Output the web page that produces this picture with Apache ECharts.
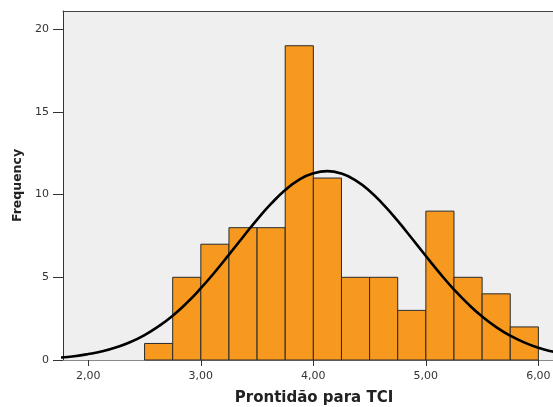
<!DOCTYPE html>
<html>
<head>
<meta charset="utf-8">
<script src="https://cdn.jsdelivr.net/npm/echarts@6/dist/echarts.min.js"></script>
<style>
html,body{margin:0;padding:0;background:#fff;}
#chart{width:553px;height:407px;}
</style>
</head>
<body>
<div id="chart"></div>
<script>
// Histogram bins (edges) and frequencies
const binEdges = [2.5, 2.75, 3.0, 3.25, 3.5, 3.75, 4.0, 4.25, 4.5, 4.75, 5.0, 5.25, 5.5, 5.75, 6.0];
const counts   = [1, 5, 7, 8, 8, 19, 11, 5, 5, 3, 9, 5, 4, 2];

// Normal curve points
const curveX = [1.75, 1.875, 2.0, 2.125, 2.25, 2.375, 2.5, 2.625, 2.75, 2.875, 3.0, 3.125, 3.25, 3.375, 3.5, 3.625, 3.75, 3.875, 4.0, 4.125,
                4.25, 4.375, 4.5, 4.625, 4.75, 4.875, 5.0, 5.125, 5.25, 5.375, 5.5, 5.625, 5.75, 5.875, 6.0, 6.125, 6.25];
const curveY = [0.15, 0.23, 0.36, 0.53, 0.77, 1.09, 1.51, 2.04, 2.68, 3.45, 4.34, 5.32, 6.37, 7.44, 8.49, 9.45, 10.28, 10.91, 11.29, 11.42,
                11.27, 10.86, 10.22, 9.38, 8.41, 7.36, 6.29, 5.24, 4.26, 3.39, 2.63, 1.99, 1.47, 1.06, 0.74, 0.51, 0.34];

// Tick labels
const xTicks = [2, 3, 4, 5, 6];
const xTickLabels = ['2,00', '3,00', '4,00', '5,00', '6,00'];
const yTicks = [0, 5, 10, 15, 20];
const yTickLabels = ['0', '5', '10', '15', '20'];

const xTitle = 'Prontidão para TCI';
const yTitle = 'Frequency';

const barData = counts.map((c, i) => [binEdges[i], binEdges[i + 1], c]);
const curveData = curveX.map((x, i) => [x, curveY[i]]);

const X_MIN = 1.775, X_MAX = 6.13, Y_MAX = 21.1;
const FONT = '"DejaVu Sans", Verdana, sans-serif';

const chart = echarts.init(document.getElementById('chart'), null, {renderer: 'canvas'});
chart.setOption({
  animation: false,
  backgroundColor: '#ffffff',
  grid: {left: 63, top: 11, right: 0, bottom: 47, containLabel: false, outerBoundsMode: 'none',
         show: true, backgroundColor: '#EFEFEF', borderWidth: 0},
  xAxis: [{
    type: 'value', min: X_MIN, max: X_MAX, position: 'bottom',
    name: xTitle, nameLocation: 'middle', nameGap: 31,
    nameTextStyle: {fontFamily: FONT, fontSize: 15, fontWeight: 'bold', color: '#222', padding: [0, 0, 0, 12]},
    axisLine: {show: true, onZero: false, lineStyle: {color: '#8a8a8a', width: 1}},
    axisTick: {show: true, length: 6, lineStyle: {color: '#333'}, customValues: xTicks},
    axisLabel: {customValues: xTicks, margin: 11, fontFamily: FONT, fontSize: 11, color: '#333',
      formatter: v => xTickLabels[xTicks.indexOf(Math.round(v * 100) / 100)] || ''},
    splitLine: {show: false}
  }, {
    type: 'value', min: X_MIN, max: X_MAX, position: 'top',
    axisLine: {show: true, onZero: false, lineStyle: {color: '#444', width: 1}},
    axisTick: {show: false}, axisLabel: {show: false}, splitLine: {show: false}
  }],
  yAxis: {
    type: 'value', min: 0, max: Y_MAX,
    name: yTitle, nameLocation: 'middle', nameGap: 39, nameRotate: 90,
    nameTextStyle: {fontFamily: FONT, fontSize: 12.5, fontWeight: 'bold', color: '#222'},
    axisLine: {show: true, lineStyle: {color: '#333', width: 1}},
    axisTick: {show: true, length: 10, lineStyle: {color: '#333'}, customValues: yTicks},
    axisLabel: {customValues: yTicks, margin: 14, fontFamily: FONT, fontSize: 11, color: '#333',
      formatter: v => yTickLabels[yTicks.indexOf(Math.round(v))] || ''},
    splitLine: {show: false}
  },
  series: [{
    type: 'custom',
    xAxisIndex: 0,
    data: barData,
    encode: {x: [0, 1], y: 2},
    z: 2,
    renderItem: function (params, api) {
      const p0 = api.coord([api.value(0), api.value(2)]);
      const p1 = api.coord([api.value(1), 0]);
      return {
        type: 'rect',
        shape: {x: p0[0], y: p0[1], width: p1[0] - p0[0], height: p1[1] - p0[1]},
        style: {fill: '#F7991E', stroke: '#2a2a2a', lineWidth: 1}
      };
    }
  }, {
    type: 'line',
    xAxisIndex: 0,
    data: curveData,
    smooth: true,
    showSymbol: false,
    symbol: 'none',
    clip: true,
    z: 3,
    lineStyle: {color: '#000', width: 2.6}
  }]
});
</script>
</body>
</html>
